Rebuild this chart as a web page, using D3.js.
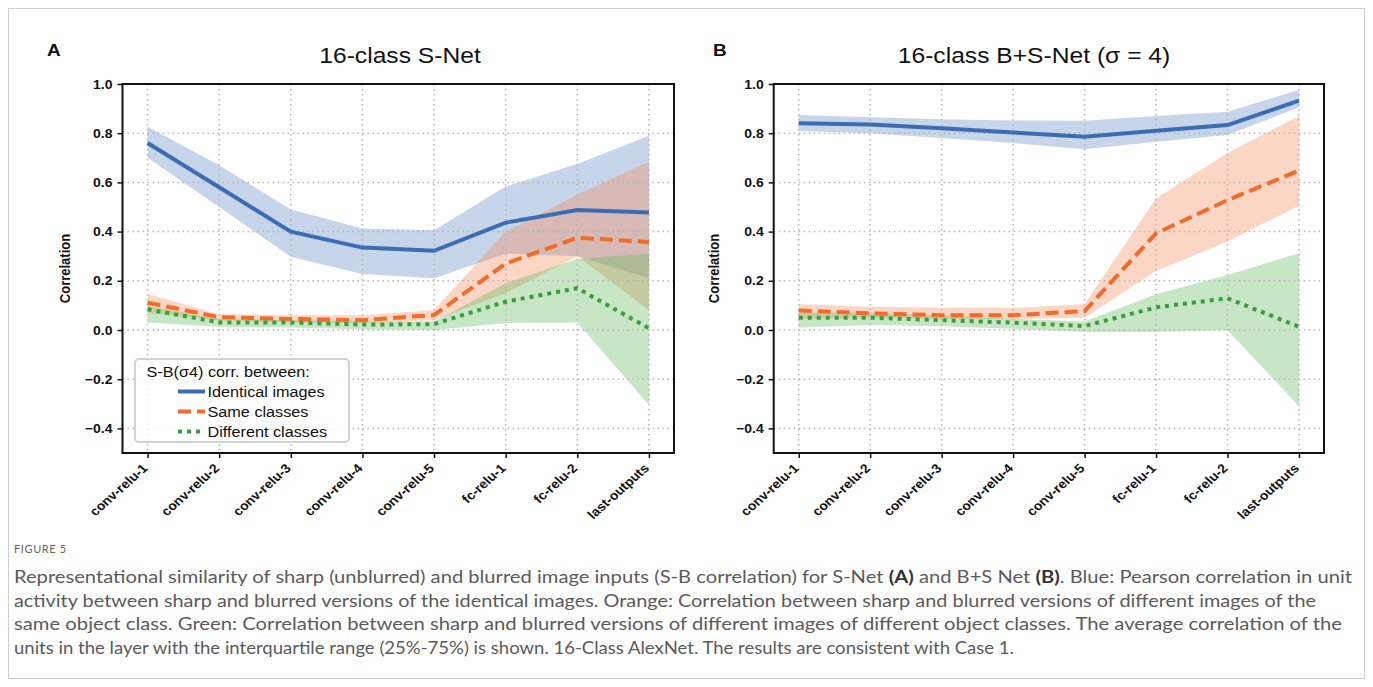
<!DOCTYPE html>
<html>
<head>
  <meta charset="utf-8">
  <title>s-b correlation</title>
  <style>
    body { margin: 0; background: #fff; }
    svg { display: block; }
    .tick text { font-family: "Liberation Sans", Arial, sans-serif; font-weight: bold; fill: #111; }
  </style>
  <script src="https://cdn.jsdelivr.net/npm/d3@7"></script>
</head>
<body>
<script>

  // ---- data ----
  var layers = ["conv-relu-1", "conv-relu-2", "conv-relu-3", "conv-relu-4", "conv-relu-5", "fc-relu-1", "fc-relu-2", "last-outputs"];
  var yTicks = [1.0, 0.8, 0.6, 0.4, 0.2, 0.0, -0.2, -0.4];

  // panel A: 16-class S-Net
  var snetIdentical   = [0.76, 0.58, 0.40, 0.335, 0.322, 0.436, 0.488, 0.478];
  var snetIdenticalHi = [0.826, 0.67, 0.49, 0.413, 0.405, 0.583, 0.675, 0.79];
  var snetIdenticalLo = [0.70, 0.50, 0.298, 0.228, 0.21, 0.31, 0.30, 0.21];
  var snetSame        = [0.111, 0.052, 0.045, 0.04, 0.061, 0.27, 0.375, 0.358];
  var snetSameHi      = [0.146, 0.064, 0.06, 0.06, 0.081, 0.40, 0.55, 0.684];
  var snetSameLo      = [0.07, 0.04, 0.03, 0.028, 0.04, 0.15, 0.30, 0.08];
  var snetDiff        = [0.084, 0.031, 0.03, 0.022, 0.024, 0.115, 0.17, 0.007];
  var snetDiffHi      = [0.098, 0.045, 0.04, 0.035, 0.035, 0.19, 0.29, 0.31];
  var snetDiffLo      = [0.03, 0.013, 0.01, 0.003, 0.0, 0.028, 0.03, -0.305];

  // panel B: 16-class B+S-Net (sigma = 4)
  var bsnetIdentical   = [0.84, 0.835, 0.82, 0.803, 0.786, 0.81, 0.833, 0.932];
  var bsnetIdenticalHi = [0.874, 0.865, 0.857, 0.852, 0.851, 0.87, 0.887, 0.976];
  var bsnetIdenticalLo = [0.809, 0.80, 0.78, 0.76, 0.735, 0.765, 0.793, 0.905];
  var bsnetSame        = [0.079, 0.068, 0.06, 0.06, 0.077, 0.393, 0.528, 0.648];
  var bsnetSameHi      = [0.105, 0.095, 0.09, 0.09, 0.105, 0.535, 0.72, 0.87];
  var bsnetSameLo      = [0.045, 0.05, 0.045, 0.045, 0.05, 0.24, 0.36, 0.505];
  var bsnetDiff        = [0.05, 0.05, 0.04, 0.03, 0.016, 0.092, 0.129, 0.013];
  var bsnetDiffHi      = [0.07, 0.07, 0.06, 0.045, 0.035, 0.145, 0.224, 0.312];
  var bsnetDiffLo      = [0.01, 0.02, 0.015, 0.005, -0.008, -0.008, 0.0, -0.31];

  var seriesNames = ["Identical images", "Same classes", "Different classes"];
  var lineColors = ["#3b6db3", "#f26b2a", "#3a9e3a"];
  var fillColors = ["#5b86c0", "#f58a55", "#5cb85c"];

  var captionLines = [
    ["Representational similarity of sharp (unblurred) and blurred image inputs (S-B correlation) for S-Net ", {b: "(A)"}, " and B+S Net ", {b: "(B)"}, ". Blue: Pearson correlation in unit"],
    ["activity between sharp and blurred versions of the identical images. Orange: Correlation between sharp and blurred versions of different images of the"],
    ["same object class. Green: Correlation between sharp and blurred versions of different images of different object classes. The average correlation of the"],
    ["units in the layer with the interquartile range (25%-75%) is shown. 16-Class AlexNet. The results are consistent with Case 1."]
  ];
  var captionWidths = [1338, 1302, 1328, 1000];

  // ---- setup ----
  var W = 1373, H = 687;
  var SX = 1.12;          // the figure is a little stretched sideways
  var plotTop = 84, plotBottom = 453;
  var font = '"Liberation Sans", Arial, sans-serif';

  var svg = d3.select("body").append("svg")
    .attr("width", W)
    .attr("height", H);

  svg.append("rect")
    .attr("x", 8.5).attr("y", 8.5)
    .attr("width", W - 17).attr("height", H - 17)
    .attr("fill", "#fff")
    .attr("stroke", "#cfcfcf");

  // text with the sideways stretch
  function stext(parent, x, y, str, size, opts) {
    opts = opts || {};
    var g = parent.append("g")
      .attr("transform", "translate(" + x + "," + y + ") scale(" + SX + ",1)" + (opts.rotate ? " rotate(" + opts.rotate + ")" : ""));
    return g.append("text")
      .attr("text-anchor", opts.anchor || "start")
      .attr("font-family", font)
      .attr("font-size", size)
      .attr("font-weight", opts.bold ? "bold" : "normal")
      .attr("fill", opts.fill || "#111")
      .text(str);
  }

  function drawPanel(p) {
    var x = d3.scaleLinear().domain([-0.35, layers.length - 1 + 0.35]).range([p.left, p.right]);
    var y = d3.scaleLinear().domain([-0.5, 1.0]).range([plotBottom, plotTop]);
    var g = svg.append("g");
    var idx = d3.range(layers.length);

    // bands
    var area = d3.area()
      .x(function(i) { return x(i); });
    p.series.forEach(function(s, k) {
      g.append("path")
        .datum(idx)
        .attr("d", area.y0(function(i) { return y(s.lo[i]); }).y1(function(i) { return y(s.hi[i]); }))
        .attr("fill", fillColors[k])
        .attr("fill-opacity", 0.35);
    });

    // grid
    g.append("g").selectAll("line").data(idx).join("line")
      .attr("x1", function(i) { return x(i); }).attr("x2", function(i) { return x(i); })
      .attr("y1", plotTop).attr("y2", plotBottom)
      .attr("stroke", "#b4b4b4").attr("stroke-width", 1.5).attr("stroke-dasharray", "1.5,3.5");
    g.append("g").selectAll("line").data(yTicks).join("line")
      .attr("x1", p.left).attr("x2", p.right)
      .attr("y1", function(d) { return y(d); }).attr("y2", function(d) { return y(d); })
      .attr("stroke", "#b4b4b4").attr("stroke-width", 1.5).attr("stroke-dasharray", "1.5,3.5");

    // lines
    var line = d3.line().x(function(i) { return x(i); });
    var dashes = [null, "13,6", "4,5"];
    p.series.forEach(function(s, k) {
      g.append("path")
        .datum(idx)
        .attr("d", line.y(function(i) { return y(s.mid[i]); }))
        .attr("fill", "none")
        .attr("stroke", lineColors[k])
        .attr("stroke-width", 4)
        .attr("stroke-dasharray", dashes[k]);
    });

    // frame
    g.append("rect")
      .attr("x", p.left).attr("y", plotTop)
      .attr("width", p.right - p.left).attr("height", plotBottom - plotTop)
      .attr("fill", "none").attr("stroke", "#111").attr("stroke-width", 2);

    // y axis
    var ya = g.append("g")
      .attr("transform", "translate(" + p.left + ",0)")
      .call(d3.axisLeft(y).tickValues(yTicks).tickSize(5).tickPadding(5).tickFormat(d3.format(".1f")));
    ya.select(".domain").remove();
    ya.selectAll(".tick line").attr("stroke", "#111").attr("stroke-width", 1.5);
    ya.selectAll(".tick text")
      .attr("font-size", 12.5)
      .attr("x", -10 / SX)
      .attr("transform", "scale(" + SX + ",1)");

    // x axis
    var xa = g.append("g")
      .attr("transform", "translate(0," + plotBottom + ")")
      .call(d3.axisBottom(x).tickValues(idx).tickSize(5).tickFormat(function(i) { return layers[i]; }));
    xa.select(".domain").remove();
    xa.selectAll(".tick line").attr("stroke", "#111").attr("stroke-width", 1.5);
    xa.selectAll(".tick text")
      .attr("font-size", 12.5)
      .attr("text-anchor", "end")
      .attr("x", 0).attr("y", 0).attr("dy", "0.35em")
      .attr("transform", "translate(-3,13) scale(" + SX + ",1) rotate(-45)");

    // y label
    stext(g, p.ylabelX, (plotTop + plotBottom) / 2, "Correlation", 13, {rotate: -90, anchor: "middle", bold: true});

    // title and panel letter
    stext(g, p.titleX, 63, p.title, 22, {anchor: "middle"});
    stext(g, p.letterX, 56, p.letter, 17, {bold: true});

    return {x: x, y: y, g: g};
  }

  var pa = drawPanel({
    left: 122.5, right: 674, ylabelX: 70, titleX: 400, letterX: 47,
    title: "16-class S-Net", letter: "A",
    series: [
      {mid: snetIdentical, lo: snetIdenticalLo, hi: snetIdenticalHi},
      {mid: snetSame, lo: snetSameLo, hi: snetSameHi},
      {mid: snetDiff, lo: snetDiffLo, hi: snetDiffHi}
    ]
  });

  drawPanel({
    left: 773.7, right: 1324, ylabelX: 719, titleX: 1034, letterX: 713,
    title: "16-class B+S-Net (\u03c3 = 4)", letter: "B",
    series: [
      {mid: bsnetIdentical, lo: bsnetIdenticalLo, hi: bsnetIdenticalHi},
      {mid: bsnetSame, lo: bsnetSameLo, hi: bsnetSameHi},
      {mid: bsnetDiff, lo: bsnetDiffLo, hi: bsnetDiffHi}
    ]
  });

  // legend (panel A only)
  var lg = pa.g.append("g");
  lg.append("rect")
    .attr("x", 135).attr("y", 359)
    .attr("width", 214).attr("height", 83)
    .attr("rx", 4)
    .attr("fill", "#fff").attr("fill-opacity", 0.82)
    .attr("stroke", "#d2d2d2").attr("stroke-width", 2);
  stext(lg, 146.5, 377, "S-B(\u03c34) corr. between:", 14.5);
  var dashes = [null, "13,6", "4,5"];
  seriesNames.forEach(function(name, k) {
    var cy = 391.5 + k * 20;
    lg.append("line")
      .attr("x1", 178).attr("x2", 205)
      .attr("y1", cy).attr("y2", cy)
      .attr("stroke", lineColors[k]).attr("stroke-width", 4)
      .attr("stroke-dasharray", dashes[k]);
    stext(lg, 207.5, cy + 5, name, 14.5);
  });

  // caption
  svg.append("text")
    .attr("x", 14).attr("y", 553)
    .attr("font-family", "Lato, 'Open Sans', sans-serif")
    .attr("font-size", 11)
    .attr("letter-spacing", 0.6)
    .attr("fill", "#666")
    .text("FIGURE 5");

  captionLines.forEach(function(parts, i) {
    var t = svg.append("text")
      .attr("x", 14).attr("y", 583 + i * 23.6)
      .attr("font-family", "Lato, 'Open Sans', sans-serif")
      .attr("font-size", 16.5)
      .attr("fill", "#5a5a5a")
      .attr("textLength", captionWidths[i])
      .attr("lengthAdjust", "spacingAndGlyphs");
    parts.forEach(function(part) {
      if (typeof part === "string") t.append("tspan").text(part);
      else t.append("tspan").attr("font-weight", "bold").attr("fill", "#333").text(part.b);
    });
  });

</script>
</body>
</html>
